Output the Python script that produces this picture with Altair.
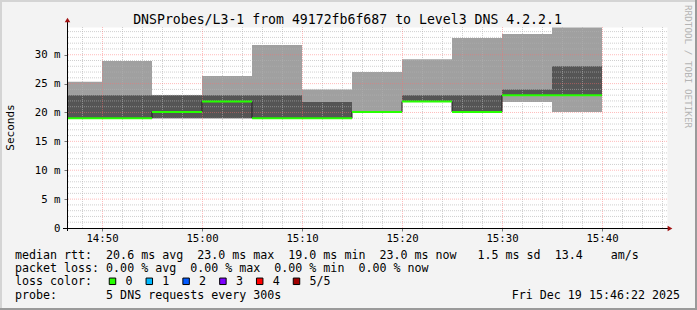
import altair as alt
import pandas as pd

# ---------------- data ----------------
step_start = ["14:45", "14:50", "14:55", "15:00", "15:05", "15:10",
              "15:15", "15:20", "15:25", "15:30", "15:35"]
step_end = ["14:50", "14:55", "15:00", "15:05", "15:10", "15:15",
            "15:20", "15:25", "15:30", "15:35", "15:40"]
# outer smoke band (min .. max ping), milliseconds
ping_min = [19.0, 19.0, 19.0, 19.0, 19.0, 19.0, 20.0, 21.9, 20.0, 21.8, 20.1]
ping_max = [25.3, 28.9, 23.0, 26.3, 31.7, 24.0, 27.0, 29.2, 32.9, 33.6, 34.7]
# inner smoke band (2nd .. 4th ping)
inner_lo = [19.0, 19.0, 19.0, 19.0, 19.0, 19.0, 20.0, 21.9, 20.0, 23.0, 23.0]
inner_hi = [23.0, 23.0, 23.0, 23.0, 23.0, 21.8, 20.1, 23.0, 23.0, 24.0, 28.0]
median_rtt = [19.0, 19.0, 20.1, 21.9, 19.0, 19.0, 20.1, 21.9, 20.1, 23.0, 23.0]

x_tick_labels = ["14:50", "15:00", "15:10", "15:20", "15:30", "15:40"]
y_tick_values = [0, 5, 10, 15, 20, 25, 30]

loss_labels = ["0", "1", "2", "3", "4", "5/5"]
loss_colors = ["#26ff00", "#00b8ff", "#0059ff", "#7e00ff", "#ff0000", "#a10000"]

title_text = "DNSProbes/L3-1 from 49172fb6f687 to Level3 DNS 4.2.2.1"
legend_lines = [
    "median rtt:  20.6 ms avg  23.0 ms max  19.0 ms min  23.0 ms now   1.5 ms sd  13.4    am/s",
    "packet loss: 0.00 % avg  0.00 % max  0.00 % min  0.00 % now",
    "loss color:",
    "probe:       5 DNS requests every 300s",
]
date_text = "Fri Dec 19 15:46:22 2025"
side_text = "RRDTOOL / TOBI OETIKER"


def tmin(t):
    h, m = t.split(":")
    return (int(h) - 14) * 60 + int(m)


def nb(s):
    return s.replace(" ", "\u00a0")


FONT = "DejaVu Sans Mono"

df = pd.DataFrame({
    "s": [tmin(t) for t in step_start],
    "e": [tmin(t) for t in step_end],
    "pmin": ping_min, "pmax": ping_max,
    "ilo": inner_lo, "ihi": inner_hi,
    "med": median_rtt,
})
step_df = pd.DataFrame({
    "s": [tmin(t) for t in step_start] + [tmin(step_end[-1])],
    "med": median_rtt + [median_rtt[-1]],
})

x_ticks = [tmin(t) for t in x_tick_labels]
minor_x = [m for m in range(48, 107, 2) if m % 10]
minor_y = [v for v in range(1, 35) if v % 5]
major_y = [v for v in y_tick_values if v > 0]

xs = alt.Scale(domain=[46.5, 106.5], nice=False, zero=False)
ys = alt.Scale(domain=[0, 34.8], nice=False, zero=False)

x_axis = alt.Axis(
    values=x_ticks,
    labelExpr="(14 + floor(datum.value / 60)) + ':' + (datum.value % 60 < 10 ? '0' : '') + (datum.value % 60)",
    domain=False, grid=False, ticks=True, tickSize=3, tickColor="#777777",
    labelFont=FONT, labelFontSize=10.7, labelColor="#000000",
    labelPadding=2, labelFlush=False, labelOverlap=False,
)
y_axis = alt.Axis(
    values=y_tick_values,
    labelExpr="datum.value == 0 ? '0' : datum.value + ' m'",
    domain=False, grid=False, ticks=True, tickSize=3, tickColor="#777777",
    labelFont=FONT, labelFontSize=10.7, labelColor="#000000",
    labelPadding=4, labelBaseline="middle", labelFlush=False, labelOverlap=False,
)

X = lambda f: alt.X(f, scale=xs, axis=x_axis, title="")
Y = lambda f: alt.Y(f, scale=ys, axis=y_axis, title="")

light = alt.Chart(df).mark_rect(color="#a0a0a0", clip=True).encode(
    x=X("s:Q"), x2="e:Q", y=Y("pmin:Q"), y2="pmax:Q")
dark = alt.Chart(df).mark_rect(color="#555555", clip=True).encode(
    x=X("s:Q"), x2="e:Q", y=Y("ilo:Q"), y2="ihi:Q")

grid_minor_y = alt.Chart(pd.DataFrame({"v": minor_y})).mark_rule(
    color="#b0b0b0", opacity=0.6, strokeDash=[1, 1], strokeWidth=1).encode(y=Y("v:Q"))
grid_minor_x = alt.Chart(pd.DataFrame({"v": minor_x})).mark_rule(
    color="#b0b0b0", opacity=0.6, strokeDash=[1, 1], strokeWidth=1, xOffset=0.5).encode(x=X("v:Q"))
grid_major_y = alt.Chart(pd.DataFrame({"v": major_y})).mark_rule(
    color="#ff6a6a", opacity=0.45, strokeDash=[1, 1], strokeWidth=1).encode(y=Y("v:Q"))
grid_major_x = alt.Chart(pd.DataFrame({"v": x_ticks})).mark_rule(
    color="#ff6a6a", opacity=0.45, strokeDash=[1, 1], strokeWidth=1, xOffset=0.5).encode(x=X("v:Q"))

step_line = alt.Chart(step_df).mark_line(
    interpolate="step-after", color="#202020", strokeWidth=1, clip=True).encode(
    x=X("s:Q"), y=Y("med:Q"))
median_seg = alt.Chart(df).mark_rule(color="#26ff00", strokeWidth=2, clip=True).encode(
    x=X("s:Q"), x2="e:Q", y=Y("med:Q"))

one = pd.DataFrame({"t": ["x"]})

# axis lines and arrows
x_axis_line = alt.Chart(one).mark_rule(color="#000000", strokeWidth=1, yOffset=0.5).encode(
    x=alt.value(-4), x2=alt.value(601), y=alt.value(201))
y_axis_line = alt.Chart(one).mark_rule(color="#000000", strokeWidth=1, xOffset=0.5).encode(
    x=alt.value(0), y=alt.value(-5), y2=alt.value(204))
x_arrow = alt.Chart(one).mark_point(shape="triangle-right", filled=True, size=30,
                                    color="#a01010", opacity=1).encode(
    x=alt.value(603), y=alt.value(201.5))
y_arrow = alt.Chart(one).mark_point(shape="triangle-up", filled=True, size=30,
                                    color="#a01010", opacity=1).encode(
    x=alt.value(0.5), y=alt.value(-7))

# frame of the canvas
frame = [
    alt.Chart(one).mark_rule(color="#d4d4d4", strokeWidth=2).encode(
        x=alt.value(-67), x2=alt.value(630), y=alt.value(-26)),
    alt.Chart(one).mark_rule(color="#d4d4d4", strokeWidth=2).encode(
        x=alt.value(-66), y=alt.value(-27), y2=alt.value(283)),
    alt.Chart(one).mark_rule(color="#9a9a9a", strokeWidth=2).encode(
        x=alt.value(-67), x2=alt.value(630), y=alt.value(282)),
    alt.Chart(one).mark_rule(color="#9a9a9a", strokeWidth=2).encode(
        x=alt.value(629), y=alt.value(-27), y2=alt.value(283)),
]


def label(txt, x, y, size=11.65, align="left", baseline="alphabetic", angle=0, color="#000000"):
    return alt.Chart(pd.DataFrame({"t": [nb(txt)]})).mark_text(
        font=FONT, fontSize=size, align=align, baseline=baseline, angle=angle, color=color
    ).encode(x=alt.value(x), y=alt.value(y), text="t:N")


texts = [
    label(title_text, 280.5, -3, size=13.2, align="center"),
    label("Seconds", -56, 100.5, size=11, align="center", baseline="middle", angle=270),
    label(side_text, 621, -22, size=9.3, align="left", baseline="middle", angle=90, color="#b4b4b4"),
    label(date_text, 613, 272, align="right"),
]
for i, line in enumerate(legend_lines):
    texts.append(label(line, -52, [231.5, 245, 258.3, 272][i]))

loss_items = []
for i, (lab, col) in enumerate(zip(loss_labels, loss_colors)):
    loss_items.append(
        alt.Chart(one).mark_square(size=42, filled=True, color=col, stroke="#000000",
                                   strokeWidth=1, opacity=1).encode(
            x=alt.value(45.5 + 36.8 * i), y=alt.value(254.3)))
    loss_items.append(label(lab, 58.5 + 36.8 * i, 258.3))

chart = alt.layer(
    light, dark,
    grid_minor_y, grid_minor_x, grid_major_y, grid_major_x,
    step_line, median_seg,
    x_axis_line, y_axis_line, x_arrow, y_arrow,
    *frame, *texts, *loss_items,
).properties(
    width=600, height=201,
    autosize=alt.AutoSizeParams(type="none"),
    padding={"left": 67, "top": 27, "right": 30, "bottom": 82},
    background="#f3f3f3",
).configure_view(stroke="transparent", fill="#ffffff")

chart.save("out.html", embed_options={"renderer": "svg", "actions": False})
